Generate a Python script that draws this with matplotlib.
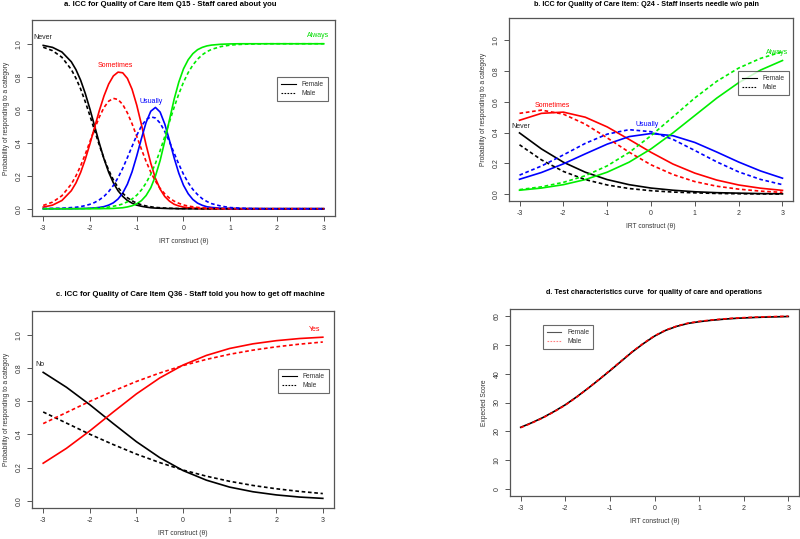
import matplotlib
matplotlib.use('Agg')
import matplotlib.pyplot as plt
from matplotlib.lines import Line2D

plt.rcParams['font.family'] = ['Liberation Sans', 'DejaVu Sans']

# ---------------- Panel a data ----------------
theta_a = [-3.0, -2.8, -2.6, -2.4, -2.3, -2.2, -2.1, -2.0, -1.9, -1.8, -1.7, -1.6,
           -1.5, -1.4, -1.3, -1.2, -1.1, -1.0, -0.9, -0.8, -0.7, -0.6, -0.5, -0.4,
           -0.3, -0.2, -0.1, 0.0, 0.1, 0.2, 0.3, 0.4, 0.5, 0.6,
           0.8, 1.0, 1.2, 1.4, 1.6, 1.8, 2.0, 2.2, 2.4, 2.6, 2.8, 3.0]
never_f_a = [.990, .978, .950, .891, .843, .779, .698, .603, .500, .397, .302, .221,
             .157, .109, .075, .050, .034, .022, .015, .010, .006, .004, .003, .002,
             .001, .001, 0, 0, 0, 0, 0, 0, 0, 0,
             0, 0, 0, 0, 0, 0, 0, 0, 0, 0, 0, 0]
some_f_a = [.010, .022, .050, .109, .156, .220, .300, .394, .495, .595, .684, .756,
            .805, .828, .824, .790, .724, .628, .511, .387, .276, .184, .119, .074,
            .046, .027, .017, .010, .006, .004, .002, .001, .001, 0,
            0, 0, 0, 0, 0, 0, 0, 0, 0, 0, 0, 0]
usu_f_a = [0, 0, 0, 0, .001, .001, .002, .003, .005, .008, .013, .022,
           .036, .059, .095, .149, .224, .320, .425, .523, .591, .614, .586, .513,
           .414, .308, .215, .142, .091, .056, .034, .021, .012, .008,
           .003, .001, 0, 0, 0, 0, 0, 0, 0, 0, 0, 0]
alw_f_a = [0, 0, 0, 0, 0, 0, 0, 0, 0, 0, .001, .001,
           .002, .004, .006, .011, .018, .030, .049, .080, .127, .198, .292, .411,
           .539, .664, .768, .848, .903, .940, .964, .978, .987, .992,
           .997, .999, 1, 1, 1, 1, 1, 1, 1, 1, 1, 1]
never_m_a = [.979, .958, .918, .844, .791, .726, .648, .563, .473, .385, .304, .234,
             .175, .129, .094, .067, .048, .034, .024, .017, .012, .008, .006, .004,
             .003, .002, .001, .001, .001, .001, 0, 0, 0, 0,
             0, 0, 0, 0, 0, 0, 0, 0, 0, 0, 0, 0]
some_m_a = [.020, .040, .079, .149, .199, .260, .331, .408, .485, .556, .614, .652,
            .669, .662, .632, .581, .515, .439, .361, .287, .222, .167, .123, .090,
            .064, .046, .033, .023, .016, .012, .008, .006, .004, .003,
            .001, .001, 0, 0, 0, 0, 0, 0, 0, 0, 0, 0]
usu_m_a = [.001, .002, .003, .007, .009, .013, .019, .027, .038, .054, .075, .104,
           .141, .188, .245, .310, .378, .445, .501, .540, .557, .550, .519, .468,
           .406, .337, .270, .209, .158, .117, .086, .061, .044, .031,
           .016, .007, .004, .002, .001, 0, 0, 0, 0, 0, 0, 0]
alw_m_a = [0, 0, 0, .001, .001, .001, .002, .002, .004, .005, .007, .010,
           .015, .021, .029, .042, .059, .082, .114, .156, .209, .275, .352, .438,
           .527, .615, .696, .767, .825, .871, .906, .933, .952, .966,
           .983, .992, .996, .998, .999, 1, 1, 1, 1, 1, 1, 1]

# ---------------- Panel b, c data (theta step 0.5) ----------------
theta = [-3.0, -2.5, -2.0, -1.5, -1.0, -0.5, 0.0, 0.5, 1.0, 1.5, 2.0, 2.5, 3.0]

never_f_b = [.398, .294, .208, .143, .095, .062, .040, .026, .016, .010, .007, .004, .003]
some_f_b = [.480, .525, .533, .500, .437, .356, .272, .196, .137, .092, .060, .039, .025]
usu_f_b = [.097, .141, .197, .262, .325, .374, .394, .380, .336, .274, .209, .151, .104]
alw_f_b = [.026, .040, .062, .095, .143, .208, .294, .398, .511, .624, .724, .806, .868]
never_m_b = [.321, .223, .148, .095, .060, .037, .023, .014, .009, .005, .003, .002, .001]
some_m_b = [.525, .546, .520, .455, .366, .273, .191, .128, .082, .052, .033, .020, .012]
usu_m_b = [.124, .183, .255, .330, .390, .419, .406, .356, .284, .210, .145, .096, .062]
alw_m_b = [.030, .048, .077, .120, .184, .271, .380, .502, .625, .733, .819, .882, .925]

no_f_c = [.774, .684, .579, .466, .356, .260, .182, .124, .082, .054, .035, .022, .014]
yes_f_c = [.226, .316, .421, .534, .644, .740, .818, .876, .918, .946, .965, .978, .986]
no_m_c = [.535, .468, .401, .339, .281, .230, .185, .148, .117, .092, .072, .056, .043]
yes_m_c = [.465, .532, .599, .661, .719, .770, .815, .852, .883, .908, .928, .944, .957]

# ---------------- Panel d data (theta step 0.25) ----------------
theta_d = [-3.0, -2.75, -2.5, -2.25, -2.0, -1.75, -1.5, -1.25, -1.0, -0.75, -0.5, -0.25,
           0.0, 0.25, 0.5, 0.75, 1.0, 1.25, 1.5, 1.75, 2.0, 2.25, 2.5, 2.75, 3.0]
score_f_d = [21.4, 23.0, 24.8, 26.9, 29.2, 31.9, 34.8, 37.85, 41.0, 44.25, 47.5, 50.4,
             53.0, 55.0, 56.4, 57.4, 58.0, 58.45, 58.8, 59.1, 59.3, 59.47, 59.6, 59.7, 59.8]
score_m_d = [21.3, 22.9, 24.7, 26.8, 29.1, 31.8, 34.8, 37.9, 41.1, 44.35, 47.6, 50.5,
             53.1, 55.1, 56.5, 57.5, 58.1, 58.55, 58.9, 59.2, 59.4, 59.57, 59.7, 59.8, 59.9]

titles = ["a. ICC for Quality of Care Item Q15 - Staff cared about you",
          "b. ICC for Quality of Care Item: Q24 - Staff inserts needle w/o pain",
          "c. ICC for Quality of Care Item Q36 - Staff told you how to get off machine",
          "d. Test characteristics curve  for quality of care and operations"]
xticks = [-3, -2, -1, 0, 1, 2, 3]
xticklabels = ['-3', '-2', '-1', '0', '1', '2', '3']
prob_ticks = [0.0, 0.2, 0.4, 0.6, 0.8, 1.0]
prob_labels = ['0.0', '0.2', '0.4', '0.6', '0.8', '1.0']
score_ticks = [0, 10, 20, 30, 40, 50, 60]
score_labels = ['0', '10', '20', '30', '40', '50', '60']

W, H = 800, 539
fig = plt.figure(figsize=(8, 5.39), dpi=100)

def add_axes(x0, y0, x1, y1):
    return fig.add_axes([x0 / W, 1 - y1 / H, (x1 - x0) / W, (y1 - y0) / H])

SPINE = '#555555'
TXT = '#333333'
LW = 1.2
DASH = (2.2, 1.6)
GREEN = '#00ee00'

def style(ax, yt, ytl, ylim, ylabel):
    ax.set_xlim(-3.24, 3.24)
    ax.set_ylim(*ylim)
    ax.set_xticks(xticks)
    ax.set_xticklabels(xticklabels)
    ax.set_yticks(yt)
    ax.set_yticklabels(ytl)
    for s in ax.spines.values():
        s.set_color(SPINE)
        s.set_linewidth(0.9)
    ax.tick_params(axis='both', direction='out', length=3.6, width=0.7,
                   color=SPINE, labelsize=5.0, labelcolor=TXT, pad=3)
    for lab in ax.get_yticklabels():
        lab.set_rotation(90)
        lab.set_va('center')
    ax.set_xlabel('IRT construct (\u03b8)', fontsize=4.8, color=TXT)
    ax.set_ylabel(ylabel, fontsize=4.8, color=TXT)

def legend(ax, x, y, male_color='black', male_ls='--', fem_color='black'):
    h = [Line2D([], [], color=fem_color, lw=0.8, ls='-'),
         Line2D([], [], color=male_color, lw=0.8, ls=male_ls, dashes=(1.5, 1.2))]
    lg = ax.legend(h, ['Female', 'Male'], loc='upper left', bbox_to_anchor=(x, y),
                   fontsize=4.8, frameon=True, fancybox=False, handlelength=2.2,
                   handletextpad=0.9, borderpad=0.6, labelspacing=0.35,
                   borderaxespad=0)
    fr = lg.get_frame()
    fr.set_edgecolor('#444444')
    fr.set_linewidth(0.8)
    for t in lg.get_texts():
        t.set_color(TXT)

ylab = 'Probability of responding to a category'

# ---------------- Panel a ----------------
ax = add_axes(32, 20, 335, 216)
for vals, col in [(never_f_a, 'black'), (some_f_a, 'red'), (usu_f_a, 'blue'), (alw_f_a, GREEN)]:
    ax.plot(theta_a, vals, color=col, lw=LW)
for vals, col in [(never_m_a, 'black'), (some_m_a, 'red'), (usu_m_a, 'blue'), (alw_m_a, GREEN)]:
    ax.plot(theta_a, vals, color=col, lw=LW, ls='--', dashes=DASH)
style(ax, prob_ticks, prob_labels, (-0.044, 1.144), ylab)
ax.text(-3.0, 1.04, 'Never', color='#222222', fontsize=5, ha='center', va='center')
ax.text(-1.45, 0.867, 'Sometimes', color='red', fontsize=5, ha='center', va='center')
ax.text(-0.7, 0.648, 'Usually', color='blue', fontsize=5, ha='center', va='center')
ax.text(2.88, 1.05, 'Always', color='#00dd00', fontsize=5, ha='center', va='center')
legend(ax, 0.809, 0.709)
fig.text(170 / W, 1 - 5 / H, titles[0], fontsize=5.6, fontweight='bold', ha='center', va='center')

# ---------------- Panel b ----------------
ax = add_axes(509, 18, 793, 201)
for vals, col in [(never_f_b, 'black'), (some_f_b, 'red'), (usu_f_b, 'blue'), (alw_f_b, GREEN)]:
    ax.plot(theta, vals, color=col, lw=LW)
for vals, col in [(never_m_b, 'black'), (some_m_b, 'red'), (usu_m_b, 'blue'), (alw_m_b, GREEN)]:
    ax.plot(theta, vals, color=col, lw=LW, ls='--', dashes=DASH)
style(ax, prob_ticks, prob_labels, (-0.044, 1.144), ylab)
ax.text(-2.98, 0.44, 'Never', color='#222222', fontsize=5, ha='center', va='center')
ax.text(-2.25, 0.573, 'Sometimes', color='red', fontsize=5, ha='center', va='center')
ax.text(-0.09, 0.455, 'Usually', color='blue', fontsize=5, ha='center', va='center')
ax.text(2.88, 0.917, 'Always', color='#00dd00', fontsize=5, ha='center', va='center')
legend(ax, 0.806, 0.710)
fig.text(646 / W, 1 - 5 / H, titles[1], fontsize=5.2, fontweight='bold', ha='center', va='center')

# ---------------- Panel c ----------------
ax = add_axes(32, 311, 334, 508)
ax.plot(theta, no_f_c, color='black', lw=LW)
ax.plot(theta, yes_f_c, color='red', lw=LW)
ax.plot(theta, no_m_c, color='black', lw=LW, ls='--', dashes=DASH)
ax.plot(theta, yes_m_c, color='red', lw=LW, ls='--', dashes=DASH)
style(ax, prob_ticks, prob_labels, (-0.044, 1.144), ylab)
ax.text(-3.08, 0.82, 'No', color='#222222', fontsize=5, ha='center', va='center')
ax.text(2.82, 1.035, 'Yes', color='red', fontsize=5, ha='center', va='center')
legend(ax, 0.815, 0.705)
fig.text(190 / W, 1 - 295 / H, titles[2], fontsize=5.6, fontweight='bold', ha='center', va='center')

# ---------------- Panel d ----------------
ax = add_axes(510, 309, 799, 496)
ax.plot(theta_d, score_f_d, color='black', lw=LW)
ax.plot(theta_d, score_m_d, color='red', lw=LW, ls='--', dashes=DASH)
style(ax, score_ticks, score_labels, (-2.4, 62.4), 'Expected Score')
legend(ax, 0.113, 0.914, male_color='#ff8080', male_ls=':', fem_color='#555555')
fig.text(654 / W, 1 - 293 / H, titles[3], fontsize=5.2, fontweight='bold', ha='center', va='center')

fig.savefig('out.png', dpi=100)
